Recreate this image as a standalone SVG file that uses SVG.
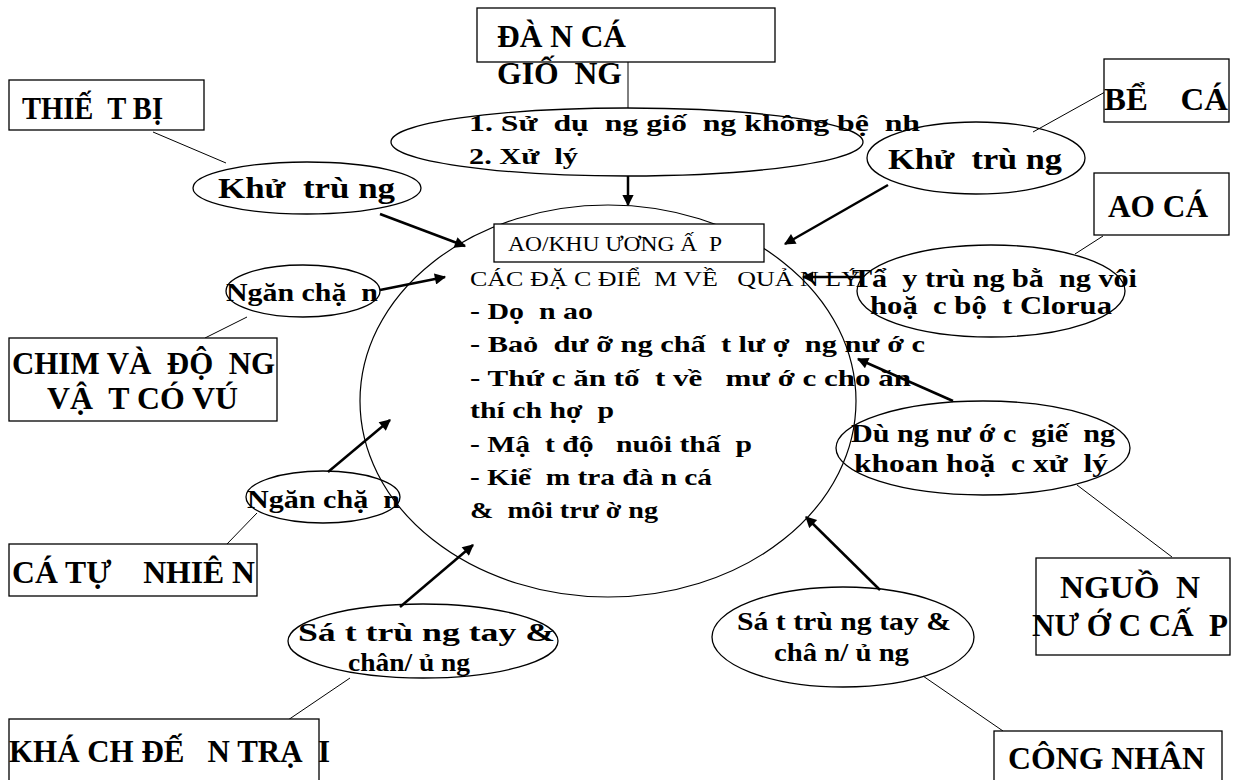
<svg xmlns="http://www.w3.org/2000/svg" width="1236" height="780" viewBox="0 0 1236 780">
<style>
  text { font-family: "Liberation Serif", "DejaVu Serif", serif; font-weight: bold; fill: #000; white-space: pre; }
  .box { fill: #fff; stroke: #000; stroke-width: 1.3; }
  .ell { fill: none; stroke: #000; stroke-width: 1.3; }
  .big { fill: none; stroke: #000; stroke-width: 1.2; }
  .line { stroke: #000; stroke-width: 1; fill: none; }
  .arr { stroke: #000; stroke-width: 2.5; fill: none; marker-end: url(#ah); }
  .f26 { font-size: 32px; }
  .f24 { font-size: 30px; }
  .f22 { font-size: 26px; }
  .f20 { font-size: 24px; }
  .reg { font-weight: normal; }
</style>
<defs>
  <marker id="ah" viewBox="0 0 10 10" refX="9" refY="5" markerWidth="5" markerHeight="4.5" orient="auto" markerUnits="strokeWidth">
    <path d="M0,0 L10,5 L0,10 z" fill="#000"/>
  </marker>
</defs>
<rect width="1236" height="780" fill="#fff"/>

<g id="connectors">
  <line class="line" x1="628" y1="62" x2="628" y2="108"/>
  <line class="arr" x1="628" y1="176" x2="628" y2="205"/>
  <line class="line" x1="153" y1="132" x2="226" y2="163"/>
  <line class="arr" x1="380" y1="214" x2="465" y2="246"/>
  <line class="arr" x1="380" y1="290" x2="445" y2="277"/>
  <line class="line" x1="247" y1="317" x2="205" y2="338"/>
  <line class="arr" x1="328" y1="472" x2="390" y2="420"/>
  <line class="line" x1="257" y1="513" x2="227" y2="544"/>
  <line class="arr" x1="400" y1="607" x2="473" y2="545"/>
  <line class="line" x1="350" y1="678" x2="288" y2="720"/>
  <line class="line" x1="1105" y1="92" x2="1033" y2="132"/>
  <line class="arr" x1="888" y1="185" x2="785" y2="244"/>
  <line class="line" x1="1103" y1="236" x2="1075" y2="254"/>
  <line class="arr" x1="862" y1="277" x2="803" y2="277"/>
  <line class="arr" x1="953" y1="401" x2="858" y2="359"/>
  <line class="line" x1="1077" y1="485" x2="1172" y2="557"/>
  <line class="arr" x1="880" y1="590" x2="806" y2="517"/>
  <line class="line" x1="923" y1="676" x2="1003" y2="731"/>
</g>

<g id="center">
  <ellipse class="big" cx="608" cy="401" rx="248" ry="196"/>
  <rect class="box" x="494" y="224" width="270" height="38"/>
  <text class="reg" x="508" y="251" font-size="20" textLength="214" lengthAdjust="spacingAndGlyphs">AO/KHU ƯƠNG Ấ  P</text>
  <text class="reg" x="470" y="286" font-size="20" textLength="390" lengthAdjust="spacingAndGlyphs">CÁC ĐẶ C ĐIỂ  M VỀ   QUẢ N LÝ</text>
  <text class="f20" x="470" y="319" textLength="123" lengthAdjust="spacingAndGlyphs">- Dọ  n ao</text>
  <text class="f20" x="470" y="352" textLength="455" lengthAdjust="spacingAndGlyphs">- Baỏ  dư ỡ ng chấ  t lư ợ  ng nư ớ c</text>
  <text class="f20" x="470" y="386" textLength="441" lengthAdjust="spacingAndGlyphs">- Thứ c ăn tố  t về   mư ớ c cho ăn</text>
  <text class="f20" x="470" y="418" textLength="144" lengthAdjust="spacingAndGlyphs">thí ch hợ  p</text>
  <text class="f20" x="470" y="452" textLength="282" lengthAdjust="spacingAndGlyphs">- Mậ  t độ   nuôi thấ  p</text>
  <text class="f20" x="470" y="485" textLength="242" lengthAdjust="spacingAndGlyphs">- Kiể  m tra đà n cá</text>
  <text class="f20" x="470" y="518" textLength="188" lengthAdjust="spacingAndGlyphs">&amp;  môi trư ờ ng</text>
</g>

<g id="dan-ca-giong">
  <rect class="box" x="477" y="8" width="298" height="54"/>
  <text class="f26" x="497" y="47" textLength="129" lengthAdjust="spacingAndGlyphs">ĐÀ N CÁ</text>
  <text class="f26" x="497" y="84" textLength="125" lengthAdjust="spacingAndGlyphs">GIỐ  NG</text>
</g>

<g id="su-dung-giong">
  <ellipse class="ell" cx="627" cy="142" rx="236" ry="34"/>
  <text class="f20" x="469" y="131" textLength="451" lengthAdjust="spacingAndGlyphs">1. Sử  dụ  ng giố  ng không bệ  nh</text>
  <text class="f20" x="469" y="164" textLength="109" lengthAdjust="spacingAndGlyphs">2. Xử  lý</text>
</g>

<g id="thiet-bi">
  <rect class="box" x="9" y="80" width="195" height="50"/>
  <text class="f26" x="22" y="119" textLength="141" lengthAdjust="spacingAndGlyphs">THIẾ  T BỊ</text>
</g>

<g id="khu-trung-trai">
  <ellipse class="ell" cx="307" cy="188" rx="114" ry="26"/>
  <text class="f24" x="218" y="198" textLength="177" lengthAdjust="spacingAndGlyphs">Khử  trù ng</text>
</g>

<g id="ngan-chan-1">
  <ellipse class="ell" cx="303" cy="291" rx="77" ry="26"/>
  <text class="f22" x="226" y="301" textLength="152" lengthAdjust="spacingAndGlyphs">Ngăn chặ  n</text>
</g>

<g id="chim">
  <rect class="box" x="9" y="338" width="268" height="83"/>
  <text class="f26" x="12" y="374" textLength="263" lengthAdjust="spacingAndGlyphs">CHIM VÀ  ĐỘ  NG</text>
  <text class="f26" x="47" y="409" textLength="191" lengthAdjust="spacingAndGlyphs">VẬ  T CÓ VÚ</text>
</g>

<g id="ngan-chan-2">
  <ellipse class="ell" cx="323" cy="497" rx="77" ry="26"/>
  <text class="f22" x="247" y="508" textLength="153" lengthAdjust="spacingAndGlyphs">Ngăn chặ  n</text>
</g>

<g id="ca-tu-nhien">
  <rect class="box" x="9" y="544" width="248" height="52"/>
  <text class="f26" x="12" y="583" textLength="243" lengthAdjust="spacingAndGlyphs">CÁ TỰ    NHIÊ N</text>
</g>

<g id="sat-trung-trai">
  <ellipse class="ell" cx="423" cy="641" rx="135" ry="37"/>
  <text class="f22" x="298" y="641" textLength="257" lengthAdjust="spacingAndGlyphs">Sá t trù ng tay &amp;</text>
  <text class="f22" x="348" y="671" textLength="122" lengthAdjust="spacingAndGlyphs">chân/ ủ ng</text>
</g>

<g id="khach">
  <rect class="box" x="9" y="719" width="310" height="70"/>
  <text class="f26" x="9" y="762" textLength="321" lengthAdjust="spacingAndGlyphs">KHÁ CH ĐẾ   N TRẠ  I</text>
</g>

<g id="be-ca">
  <rect class="box" x="1104" y="59" width="125" height="63"/>
  <text class="f26" x="1104" y="110" textLength="124" lengthAdjust="spacingAndGlyphs">BỂ    CÁ</text>
</g>

<g id="khu-trung-phai">
  <ellipse class="ell" cx="976" cy="158" rx="109" ry="36"/>
  <text class="f24" x="888" y="169" textLength="174" lengthAdjust="spacingAndGlyphs">Khử  trù ng</text>
</g>

<g id="ao-ca">
  <rect class="box" x="1094" y="173" width="135" height="62"/>
  <text class="f26" x="1108" y="217" textLength="100" lengthAdjust="spacingAndGlyphs">AO CÁ</text>
</g>

<g id="tay-trung">
  <ellipse class="ell" cx="991" cy="291" rx="134" ry="46"/>
  <text class="f22" x="852" y="287" textLength="285" lengthAdjust="spacingAndGlyphs">Tẩ  y trù ng bằ  ng vôi</text>
  <text class="f22" x="870" y="314" textLength="242" lengthAdjust="spacingAndGlyphs">hoặ  c bộ  t Clorua</text>
</g>

<g id="dung-nuoc">
  <ellipse class="ell" cx="983" cy="448" rx="147" ry="47"/>
  <text class="f22" x="851" y="442" textLength="264" lengthAdjust="spacingAndGlyphs">Dù ng nư ớ c  giế  ng</text>
  <text class="f22" x="854" y="472" textLength="254" lengthAdjust="spacingAndGlyphs">khoan hoặ  c xử  lý</text>
</g>

<g id="nguon-nuoc">
  <rect class="box" x="1036" y="558" width="194" height="97"/>
  <text class="f26" x="1060" y="598" textLength="140" lengthAdjust="spacingAndGlyphs">NGUỒ  N</text>
  <text class="f26" x="1032" y="636" textLength="196" lengthAdjust="spacingAndGlyphs">NƯ Ớ C CẤ  P</text>
</g>

<g id="sat-trung-phai">
  <ellipse class="ell" cx="843" cy="637" rx="131" ry="50"/>
  <text class="f22" x="737" y="630" textLength="214" lengthAdjust="spacingAndGlyphs">Sá t trù ng tay &amp;</text>
  <text class="f22" x="774" y="661" textLength="135" lengthAdjust="spacingAndGlyphs">châ n/ ủ ng</text>
</g>

<g id="cong-nhan">
  <rect class="box" x="994" y="731" width="228" height="60"/>
  <text class="f26" x="1008" y="769" textLength="197" lengthAdjust="spacingAndGlyphs">CÔNG NHÂN</text>
</g>
</svg>
